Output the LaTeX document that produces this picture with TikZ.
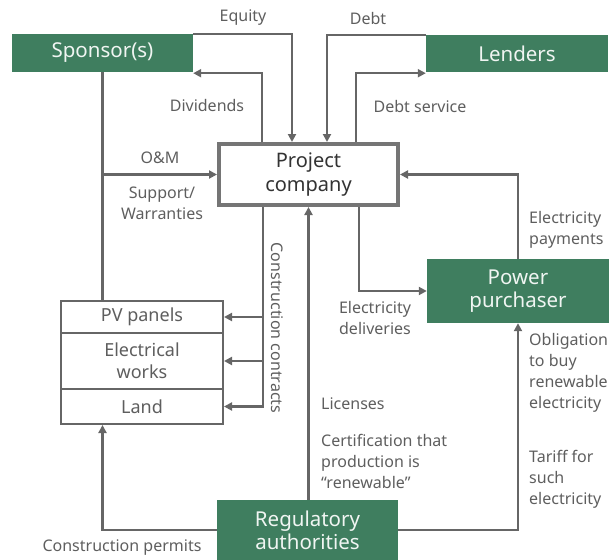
\documentclass[tikz,border=0pt]{standalone}
\usepackage{fontspec}
\setmainfont{Noto Sans}
\usetikzlibrary{arrows.meta,calc}
\definecolor{grn}{HTML}{3F7E5F}
\definecolor{ln}{HTML}{666666}
\definecolor{lbl}{HTML}{5E5E5E}
\tikzset{
  gbox/.style={fill=grn,draw=none,text=white!92!grn,font=\fontsize{20.5}{23}\selectfont,align=center,inner sep=0pt},
  wbox/.style={draw=ln,line width=2pt,fill=white,text=lbl,font=\fontsize{18}{22}\selectfont,align=center,inner sep=0pt,minimum width=162pt},
  arr/.style={draw=ln,line width=2.2pt,-{Triangle[length=8pt,width=8pt]}},
  ln/.style={draw=ln,line width=2.2pt},
  lab/.style={text=lbl,font=\fontsize{16}{21}\selectfont,inner sep=0pt},
}
\begin{document}
\begin{tikzpicture}[x=1pt,y=-1pt]
\useasboundingbox (0,0) rectangle (611,560);
% boxes
\node[gbox,minimum width=181pt,minimum height=38pt] (spon) at (102.5,53) {Sponsor(s)};
\node[gbox,minimum width=182pt,minimum height=37pt] (lend) at (517,53.5) {Lenders};
\node[draw=ln!90,line width=4pt,fill=white,minimum width=179pt,minimum height=61pt,align=center,inner sep=0pt,
      text=black!80,font=\fontsize{20}{24}\selectfont] (pc) at (308.5,174.5) {Project\\company};
\node[gbox,minimum width=182pt,minimum height=64pt] (pp) at (518,291) {Power\\purchaser};
\node[gbox,minimum width=181pt,minimum height=60pt] (ra) at (307.5,530) {Regulatory\\authorities};
\node[wbox,minimum height=32pt] (pv) at (142,317) {PV panels};
\node[wbox,minimum height=56pt] (ew) at (142,361) {Electrical\\works};
\node[wbox,minimum height=35pt] (land) at (142,406.5) {Land};
% connectors
\draw[arr] (spon.north east) -| ([xshift=-16.5pt]pc.north);
\draw[arr] ([xshift=-46.5pt]pc.north) |- ([yshift=-1pt]spon.south east);
\draw[arr] (lend.north west) -| ([xshift=18.5pt]pc.north);
\draw[arr] ([xshift=47.5pt]pc.north) |- ([yshift=-1pt]lend.south west);
\draw[ln] (spon.south) -- (spon.south |- pv.north);
\draw[arr] (spon.south |- pc.west) -- (pc.west);
\draw[arr] (pp.north) |- (pc.east);
\draw[arr] ([xshift=50.5pt]pc.south) |- (pp.west);
\coordinate (cc) at ([xshift=-45.5pt]pc.south);
\draw[arr] (cc) |- (land.east);
\draw[arr] (pv.east -| cc) -- (pv.east);
\draw[arr] (ew.east -| cc) -- (ew.east);
\draw[arr] (ra.north -| pc.south) -- (pc.south);
\draw[arr] (ra.east) -| (pp.south);
\draw[arr] (ra.west) -| (spon.south |- land.south);
% labels
\node[lab] (l1) at (243,18) {Equity};
\node[lab] (l2) at (368,18) {Debt};
\node[lab] (l3) at (207,105) {Dividends};
\node[lab] (l4) at (420,106) {Debt service};
\node[lab] (l5) at (160,158) {O\&M};
\node[lab,align=center] (l6) at (162,203) {Support/\\Warranties};
\node[lab,rotate=-90] (l7) at (277,328) {Construction contracts};
\node[lab,align=left,anchor=west] (l8) at (529,230) {Electricity\\payments};
\node[lab,align=center] (l9) at (375,318) {Electricity\\deliveries};
\node[lab,align=left,anchor=west] (l10) at (529,373) {Obligation\\to buy\\renewable\\electricity};
\node[lab,anchor=west] (l11) at (321,404) {Licenses};
\node[lab,align=left,anchor=west] (l12) at (321,461) {Certification that\\production is\\“renewable”};
\node[lab,align=left,anchor=west] (l13) at (529,479) {Tariff for\\such\\electricity};
\node[lab] (l14) at (122,548) {Construction permits};
\end{tikzpicture}
\end{document}
